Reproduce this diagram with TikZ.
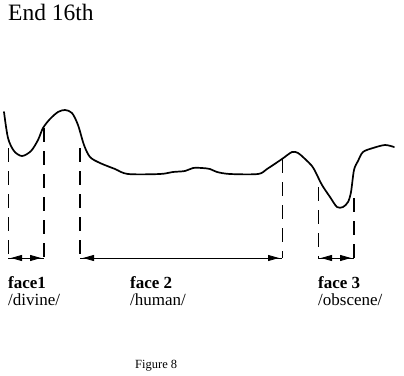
\documentclass[tikz,border=0pt]{standalone}
\usepackage{fontspec}
\setmainfont{Liberation Serif}
\usetikzlibrary{arrows.meta}
\begin{document}
\begin{tikzpicture}[
	x=1pt, y=-1pt,
	curve/.style={line width=1.7pt, line join=round, line cap=round},
	guide/.style={dash pattern=on 14pt off 9pt, line width=0.8pt},
	guidebold/.style={guide, line width=1.7pt},
	span/.style={{Triangle[length=11pt,width=6pt]}-{Triangle[length=11pt,width=6pt]}, line width=0.8pt, shorten <=3pt, shorten >=3pt},
	lab/.style={anchor=base west, inner sep=0pt, font=\fontsize{17}{17}\selectfont\bfseries},
	sub/.style={anchor=base west, inner sep=0pt, font=\fontsize{17}{17}\selectfont},
	]
\useasboundingbox (0,0) rectangle (404,375);
% title and caption
\node [anchor=base west, inner sep=0pt, font=\fontsize{23.5}{23.5}\selectfont] (title) at (8,20) {End 16th};
\node [anchor=base west, inner sep=0pt, font=\fontsize{12.5}{12.5}\selectfont] (fig) at (135,368) {Figure 8};
% the profile
\draw [curve] plot [smooth, tension=0.5] coordinates {
	(4,112) (8,138) (14,151) (22,156) (31,151) (38,140) (43,128)
	(50,119) (58,112) (65,110) (72,113) (78,125) (84,145) (90,157)
	(100,163) (115,169) (128,174) (160,174) (173,172) (185,171)
	(193,168) (202,168) (210,169) (217,172) (230,174) (258,174)
	(267,169) (282,159) (292,152) (298,153) (304,158) (312,166)
	(316,173) (322,185) (330,197) (337,207) (343,207) (348,202)
	(351,192) (354,170) (358,161) (363,152) (373,148) (385,145)
	(394,147)
};
% guide lines
\coordinate (t1) at (8,148);
\coordinate (t2) at (44,128);
\coordinate (t3) at (80,148);
\coordinate (t4) at (282,159);
\coordinate (t5) at (318,187);
\coordinate (t6) at (354,198);
\foreach \i/\x in {1/8,2/44,3/80,4/282,5/318,6/354}
	\coordinate (b\i) at (\x,258);
\draw [guide] (t1) -- (b1);
\draw [guidebold] (t2) -- (b2);
\draw [guidebold] (t3) -- (b3);
\draw [guide] (t4) -- (b4);
\draw [guide] (t5) -- (b5);
\draw [guidebold] (t6) -- (b6);
% spans
\foreach \a/\b in {b1/b2,b3/b4,b5/b6} {
	\draw [line width=0.8pt] (\a) -- (\b);
	\draw [span] (\a) -- (\b);
}
% labels
\node [lab] (face1) at (8,288) {face1};
\node [sub] (divine) at (8,305) {/divine/};
\node [lab] (face2) at (130,288) {face 2};
\node [sub] (human) at (130,305) {/human/};
\node [lab] (face3) at (318,288) {face 3};
\node [sub] (obscene) at (318,305) {/obscene/};
\end{tikzpicture}
\end{document}
